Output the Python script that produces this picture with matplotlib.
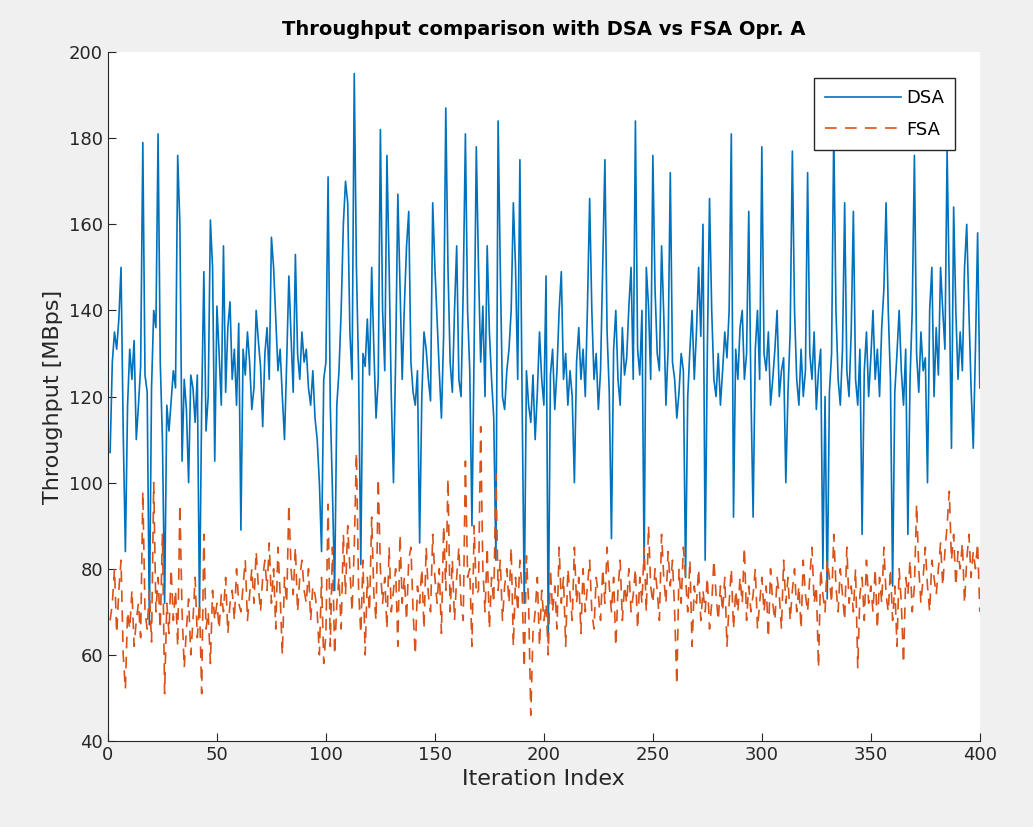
import numpy as np
import matplotlib
matplotlib.use("Agg")
import matplotlib.pyplot as plt

# values (index 1..400)
dsa = [
    107, 128, 135, 131, 138, 150, 112, 84, 118, 131,
    124, 133, 110, 118, 127, 179, 125, 121, 67, 122,
    140, 136, 181, 128, 110, 72, 118, 112, 119, 126,
    122, 176, 160, 105, 124, 117, 100, 125, 122, 114,
    125, 70, 118, 149, 112, 120, 161, 150, 105, 141,
    130, 118, 155, 121, 136, 142, 124, 131, 118, 137,
    89, 131, 125, 135, 128, 117, 122, 140, 133, 127,
    113, 130, 136, 124, 157, 150, 138, 126, 131, 120,
    110, 128, 148, 134, 121, 153, 130, 124, 135, 128,
    131, 122, 118, 126, 115, 110, 100, 84, 124, 128,
    171, 118, 98, 75, 118, 126, 140, 160, 170, 165,
    135, 124, 195, 150, 126, 81, 130, 127, 138, 125,
    150, 131, 115, 124, 182, 140, 126, 176, 150, 120,
    100, 129, 167, 145, 124, 141, 155, 163, 128, 121,
    118, 126, 86, 120, 135, 131, 124, 119, 165, 150,
    138, 126, 115, 134, 187, 150, 128, 121, 140, 155,
    124, 120, 145, 181, 140, 126, 90, 131, 178, 150,
    128, 141, 120, 155, 135, 124, 115, 82, 184, 150,
    120, 117, 126, 131, 140, 165, 150, 124, 175, 120,
    72, 126, 118, 114, 125, 110, 121, 135, 124, 118,
    148, 63, 125, 131, 117, 126, 140, 149, 124, 130,
    118, 126, 120, 100, 128, 136, 124, 131, 120, 141,
    166, 140, 124, 130, 117, 126, 150, 175, 135, 121,
    87, 131, 140, 124, 118, 136, 125, 129, 141, 150,
    124, 184, 131, 125, 140, 80, 150, 141, 124, 176,
    145, 130, 126, 155, 139, 118, 131, 172, 128, 124,
    115, 121, 130, 126, 78, 120, 131, 140, 124, 135,
    150, 134, 160, 82, 131, 166, 140, 124, 120, 130,
    118, 126, 135, 129, 140, 181, 92, 131, 124, 136,
    140, 124, 130, 163, 121, 92, 131, 140, 124, 178,
    130, 126, 135, 118, 124, 131, 140, 120, 126, 129,
    100, 121, 135, 177, 140, 124, 118, 131, 120, 126,
    172, 130, 124, 135, 117, 126, 131, 80, 120, 73,
    121, 130, 182, 140, 124, 118, 131, 165, 126, 120,
    135, 163, 124, 118, 131, 88, 126, 135, 120, 129,
    140, 124, 131, 120, 136, 145, 165, 140, 124, 76,
    121, 130, 140, 126, 118, 131, 88, 124, 140, 176,
    130, 121, 135, 126, 129, 100, 140, 150, 120, 136,
    125, 150, 140, 131, 177, 145, 108, 164, 140, 124,
    135, 126, 150, 160, 140, 122, 108, 131, 158, 122,
]

fsa = [
    68, 72, 80, 65, 75, 82, 60, 52, 70, 66,
    75, 62, 68, 72, 64, 98, 70, 66, 75, 63,
    100, 70, 78, 66, 88, 51, 72, 65, 80, 68,
    75, 62, 95, 70, 57, 66, 73, 60, 68, 78,
    64, 72, 51, 88, 66, 70, 58, 75, 68, 72,
    66, 74, 70, 78, 65, 72, 75, 68, 80, 72,
    70, 76, 82, 68, 74, 80, 72, 84, 76, 70,
    78, 82, 75, 86, 72, 80, 66, 85, 74, 60,
    78, 72, 95, 80, 74, 85, 70, 78, 82, 75,
    72, 80, 68, 76, 74, 70, 60, 78, 58, 65,
    95, 62, 85, 60, 72, 78, 66, 88, 74, 90,
    80, 70, 85, 107, 75, 65, 82, 60, 78, 70,
    92, 74, 68, 101, 80, 72, 78, 66, 85, 70,
    75, 80, 62, 88, 72, 78, 68, 82, 85, 70,
    60, 76, 72, 80, 66, 85, 74, 70, 88, 78,
    72, 80, 65, 90, 75, 101, 70, 82, 68, 78,
    85, 72, 68, 105, 78, 80, 62, 90, 74, 75,
    113, 80, 70, 85, 66, 78, 72, 102, 75, 82,
    68, 76, 80, 72, 85, 62, 78, 70, 82, 75,
    57, 83, 72, 46, 65, 70, 78, 62, 75, 68,
    72, 60, 80, 70, 76, 66, 85, 72, 78, 62,
    80, 74, 68, 85, 72, 78, 65, 80, 70, 76,
    82, 70, 66, 78, 74, 68, 80, 72, 85, 76,
    70, 78, 62, 75, 82, 68, 76, 72, 80, 70,
    74, 80, 66, 78, 72, 85, 70, 90, 76, 72,
    80, 75, 68, 88, 78, 72, 84, 76, 82, 70,
    53, 80, 72, 85, 78, 70, 82, 62, 76, 72,
    80, 68, 75, 70, 78, 66, 72, 82, 74, 68,
    76, 70, 78, 62, 72, 80, 66, 75, 70, 78,
    72, 85, 68, 76, 70, 74, 80, 66, 72, 78,
    70, 76, 64, 80, 72, 68, 78, 74, 66, 82,
    72, 78, 68, 75, 80, 70, 76, 66, 82, 74,
    70, 78, 85, 72, 76, 57, 80, 74, 70, 82,
    78, 72, 88, 76, 70, 80, 74, 68, 85, 72,
    76, 70, 80, 57, 74, 78, 68, 82, 72, 76,
    70, 80, 66, 78, 72, 85, 74, 70, 80, 68,
    76, 62, 80, 72, 58, 78, 74, 82, 70, 76,
    95, 80, 72, 78, 85, 76, 70, 82, 78, 74,
    80, 86, 76, 84, 90, 98, 82, 88, 76, 84,
    80, 86, 72, 82, 88, 78, 84, 80, 86, 70,
]

x = np.arange(1, len(dsa) + 1)

fig = plt.figure(figsize=(10.33, 8.27), dpi=100, facecolor="#f0f0f0")
ax = fig.add_axes([0.1045, 0.104, 0.844, 0.833])

ax.plot(x, dsa, color="#0072BD", lw=1.2, label="DSA")
ax.plot(x, fsa, color="#D95319", lw=1.2, ls=(0, (7, 5)), label="FSA")

ax.set_xlim(0, 400)
ax.set_ylim(40, 200)
ax.set_xticks(range(0, 401, 50))
ax.set_yticks(range(40, 201, 20))
ax.tick_params(direction="in", labelsize=13, colors="#262626", length=6)
ax.spines["top"].set_visible(False)
ax.spines["right"].set_visible(False)
for s in ("left", "bottom"):
    ax.spines[s].set_color("#262626")

ax.set_title("Throughput comparison with DSA vs FSA Opr. A",
             fontsize=14, fontweight="bold", color="black", pad=12)
ax.set_xlabel("Iteration Index", fontsize=16, color="#262626")
ax.set_ylabel("Throughput [MBps]", fontsize=16, color="#262626")

leg = ax.legend(loc="upper right", fontsize=13, fancybox=False,
                framealpha=1, edgecolor="#262626", handlelength=4.2,
                labelspacing=0.75, borderpad=0.6, handletextpad=0.3,
                bbox_to_anchor=(0.982, 0.975))
leg.get_frame().set_linewidth(1.0)

fig.savefig("out.png", dpi=100, facecolor=fig.get_facecolor())
